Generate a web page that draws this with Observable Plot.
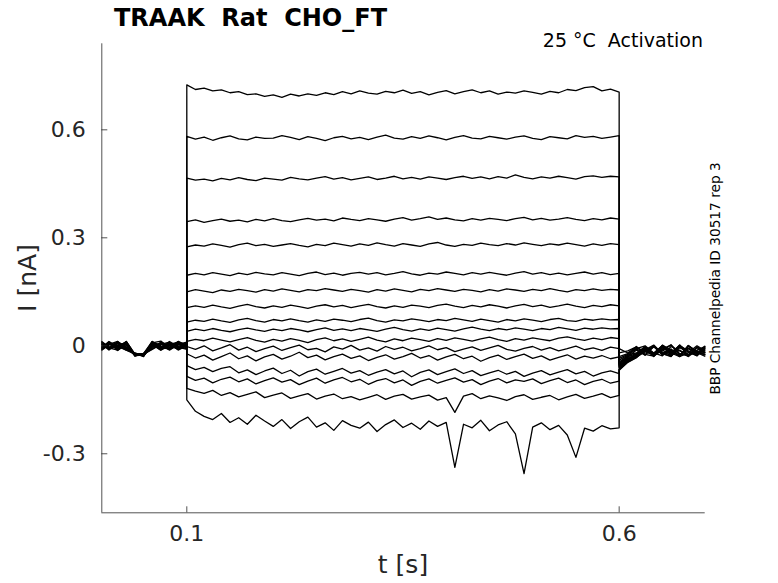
<!DOCTYPE html>
<html><head><meta charset="utf-8">
<script src="https://cdn.jsdelivr.net/npm/d3@7"></script>
<script src="https://cdn.jsdelivr.net/npm/@observablehq/plot@0.6"></script>
<style>body{margin:0;background:#fff}#chart{width:778px;height:583px}</style>
</head><body><div id="chart"></div>
<script>
// time samples (s): pre-pulse, step, post-pulse
const t = [
  0.0017,0.01,0.02,0.03,0.04,0.05,0.06,0.07,0.08,0.09,0.1,
  0.1,0.11,0.12,0.13,0.14,0.15,0.16,0.17,0.18,0.19,
  0.2,0.21,0.22,0.23,0.24,0.25,0.26,0.27,0.28,0.29,
  0.3,0.31,0.32,0.33,0.34,0.35,0.36,0.37,0.38,0.39,
  0.4,0.41,0.42,0.43,0.44,0.45,0.46,0.47,0.48,0.49,
  0.5,0.51,0.52,0.53,0.54,0.55,0.56,0.57,0.58,0.59,0.6,
  0.6,0.61,0.62,0.63,0.64,0.65,0.66,0.67,0.68,0.69,0.699
];
// current traces in pA
const trace01 = [9,-7,12,-5,-26,-25,6,-10,4,10,-4,
  725,712,716,708,711,703,706,698,700,693,
  697,690,699,694,700,696,703,698,706,700,
  708,702,699,707,703,710,701,706,697,704,
  709,700,706,711,703,708,699,705,702,708,
  704,699,707,703,712,709,717,720,708,713,705,
  -8,-20,-2,-26,0,-22,-30,-4,-16,-27,-8];
const trace02 = [-10,6,-9,12,-23,-28,4,-12,8,-6,2,
  582,574,580,571,578,583,575,572,580,576,
  577,584,579,573,581,576,570,578,582,575,
  579,573,580,585,577,574,581,576,583,578,
  572,579,584,577,575,582,578,574,580,583,
  576,573,581,578,575,584,579,582,576,580,584,
  -20,-14,-3,-24,-29,-6,-18,1,-27,-12,-2];
const trace03 = [4,-12,10,-3,-22,-24,-9,6,-4,12,-2,
  466,460,463,458,465,461,467,462,459,466,
  463,460,468,464,461,466,470,463,467,461,
  465,469,462,466,471,464,468,463,469,466,
  462,467,471,465,469,464,470,466,475,468,
  464,469,466,471,467,463,470,472,468,471,469,
  -30,-22,-8,0,-20,-28,-2,-14,-24,-5,-19];
const trace04 = [-6,10,-13,4,-27,-26,12,-4,-10,6,4,
  345,350,343,348,352,346,349,344,351,347,
  353,348,345,350,354,349,352,347,355,351,
  348,353,350,346,352,356,349,353,358,351,
  355,350,347,353,349,354,351,348,353,357,
  350,354,349,352,356,351,348,353,350,355,352,
  -35,-24,-4,-16,-26,2,-12,-28,-7,-21,-1];
const trace05 = [12,-4,6,-10,-21,-23,-6,10,0,-9,6,
  275,280,277,283,279,274,281,285,278,282,
  276,280,284,279,275,282,278,285,281,277,
  283,279,286,281,277,284,280,276,283,287,
  280,276,282,279,285,281,278,284,280,286,
  282,278,283,280,285,281,277,283,279,284,281,
  -40,-26,-20,-2,-24,-10,3,-22,-29,-4,-15];
const trace06 = [-2,8,-12,6,-24,-27,10,-3,7,-12,0,
  196,201,197,203,199,195,202,198,204,200,
  197,203,199,195,201,205,198,202,196,201,
  204,199,203,197,201,206,200,196,202,199,
  205,201,197,203,199,204,200,196,202,206,
  199,203,198,202,197,201,205,199,203,198,201,
  -45,-28,-8,-25,-3,-17,-27,0,-14,-24,-6];
const trace07 = [10,-9,2,-12,-20,-28,2,-7,12,-2,-8,
  150,156,152,148,155,151,157,153,149,156,
  152,158,154,150,156,153,159,155,151,157,
  153,149,156,152,158,154,150,157,153,159,
  155,151,157,154,150,156,152,158,155,151,
  157,153,159,154,150,156,153,158,154,157,155,
  -48,-30,-22,-5,-28,-12,2,-25,-8,-19,-29];
const trace08 = [-8,4,12,-6,-25,-22,8,13,-6,4,10,
  106,111,107,113,108,104,110,115,109,105,
  111,107,113,109,104,110,114,108,112,106,
  111,115,109,105,111,107,113,110,106,112,
  116,110,106,112,108,114,110,105,111,115,
  109,113,107,111,116,110,106,112,109,114,111,
  -50,-32,-12,-26,-1,-20,-9,-29,1,-16,-24];
const trace09 = [6,-10,0,10,-29,-21,-4,8,-9,12,2,
  66,71,68,74,69,65,72,76,70,66,
  73,69,75,70,66,72,68,74,71,67,
  73,77,70,66,72,69,75,71,67,73,
  70,76,72,68,74,70,66,73,69,75,
  71,67,73,76,70,68,74,71,75,72,73,
  -52,-34,-23,-6,-30,-3,-18,-26,0,-21,-10];
const trace10 = [-12,2,8,-4,-22,-26,6,-8,2,-4,-10,
  40,46,42,48,43,39,45,49,44,40,
  46,42,48,44,39,45,50,43,47,42,
  48,44,40,46,51,45,41,47,43,49,
  45,41,47,52,46,42,48,44,50,46,
  42,48,45,51,47,43,49,46,50,47,48,
  -55,-36,-25,-11,2,-22,-29,-5,-17,-27,-4];
const trace11 = [4,-6,-12,8,-26,-23,-10,4,10,-6,8,
  12,18,14,21,16,11,17,23,15,10,
  18,13,20,15,9,17,22,14,19,12,
  18,24,16,11,19,14,21,17,12,20,
  15,22,18,13,19,24,17,12,20,16,
  22,18,14,21,25,19,15,21,17,23,20,
  -58,-37,-27,-8,-20,1,-26,-12,-30,-3,-18];
const trace12 = [-4,12,-2,-10,-20,-29,4,-12,0,8,-2,
  -2,-10,0,-14,-6,3,-12,-4,-16,-8,
  -1,-13,-5,2,-11,-7,-17,-3,-9,1,
  -12,-6,-15,-2,-10,-4,-14,-8,0,-11,
  -5,-16,-9,-3,-13,-6,1,-10,-15,-7,
  -2,-12,-5,-14,-8,-1,-11,-6,-13,-4,-8,
  -60,-38,-28,-14,-1,-24,-10,-30,-19,0,-13];
const trace13 = [8,-8,6,2,-28,-22,12,0,-10,2,6,
  -22,-34,-26,-40,-30,-20,-36,-28,-42,-31,
  -24,-37,-29,-18,-33,-26,-39,-30,-23,-35,
  -28,-41,-32,-25,-37,-30,-21,-34,-27,-40,
  -31,-24,-36,-29,-43,-33,-26,-38,-30,-23,
  -35,-28,-40,-32,-25,-37,-29,-34,-27,-36,-31,
  -62,-40,-30,-4,-22,-11,-27,2,-17,-28,-7];
const trace14 = [-6,10,-4,12,-24,-25,-2,6,-12,4,-4,
  -55,-66,-60,-72,-63,-58,-75,-67,-80,-70,
  -62,-77,-68,-84,-72,-65,-79,-71,-63,-76,
  -69,-82,-73,-66,-78,-70,-86,-74,-67,-80,
  -72,-64,-77,-69,-83,-75,-68,-79,-71,-85,
  -76,-69,-81,-73,-66,-78,-71,-84,-75,-70,-77,
  -64,-42,-29,-15,-25,1,-16,-27,-6,-22,-3];
const trace15 = [2,-4,10,-8,-21,-30,8,-6,6,-10,0,
  -85,-96,-90,-103,-93,-87,-100,-92,-106,-97,
  -89,-101,-94,-108,-98,-90,-104,-95,-88,-100,
  -93,-107,-97,-91,-103,-95,-110,-99,-92,-104,
  -96,-89,-101,-94,-108,-98,-91,-103,-95,-99,
  -92,-105,-97,-90,-102,-95,-108,-99,-93,-104,-98,
  -66,-44,-31,-17,-2,-26,-12,-29,0,-18,-24];
const trace16 = [-10,6,-6,10,-27,-24,4,-8,8,-2,6,
  -118,-126,-132,-124,-138,-130,-142,-135,-128,-144,
  -137,-131,-146,-139,-133,-148,-140,-134,-147,-141,
  -150,-143,-136,-149,-140,-135,-148,-142,-137,-151,
  -144,-185,-140,-133,-147,-139,-145,-152,-141,-136,
  -149,-143,-138,-150,-142,-135,-146,-140,-133,-144,-138,
  -66,-45,-32,-9,-24,-3,-20,-30,-1,-15,-26];
const trace17 = [-8,6,-2,-12,-23,-24,0,8,-4,6,-6,
  -150,-182,-196,-205,-188,-213,-200,-218,-193,-209,
  -224,-205,-230,-211,-198,-226,-214,-235,-208,-221,
  -229,-212,-238,-219,-206,-227,-215,-232,-209,-224,
  -213,-338,-218,-228,-207,-236,-220,-211,-245,-355,
  -226,-214,-233,-221,-248,-310,-229,-237,-222,-231,-228,
  -68,-46,-33,-12,-27,-5,-22,2,-29,-14,-20];
const traces = [trace01,trace02,trace03,trace04,trace05,trace06,trace07,trace08,trace09,
  trace10,trace11,trace12,trace13,trace14,trace15,trace16,trace17];

const xTicks = [0.1, 0.6];
const yTicks = [-0.3, 0, 0.3, 0.6];
const xDomain = [0.0017, 0.6995];
const yDomain = [-0.464, 0.839];

const title = "TRAAK  Rat  CHO_FT";
const subtitle = "25 °C  Activation";
const sideNote = "BBP Channelpedia ID 30517 rep 3";
const xLabel = "t [s]";
const yLabel = "I [nA]";

const data = traces.flatMap((vals, k) => vals.map((v, i) => ({t: t[i], I: v / 1000, trace: k})));

const axisColor = "#262626";
const svg = Plot.plot({
  width: 778, height: 583,
  marginLeft: 101.3, marginRight: 73.3, marginTop: 43.3, marginBottom: 70.7,
  style: {fontFamily: "DejaVu Sans", background: "#fff", overflow: "visible"},
  x: {domain: xDomain},
  y: {domain: yDomain},
  marks: [
    Plot.line(data, {x: "t", y: "I", z: "trace", stroke: "#000", strokeWidth: 1.3}),
    Plot.ruleX([xDomain[0]], {stroke: axisColor, strokeWidth: 0.8}),
    Plot.ruleY([yDomain[0]], {stroke: axisColor, strokeWidth: 0.8}),
    Plot.axisX(xTicks, {tickSize: -6, tickPadding: 19, fontSize: 22, color: axisColor, strokeWidth: 0.8, label: null, tickFormat: d => String(d)}),
    Plot.axisY(yTicks, {tickSize: -6, tickPadding: 22, fontSize: 22, color: axisColor, strokeWidth: 0.8, label: null, tickFormat: d => String(d)})
  ]
});
document.getElementById("chart").appendChild(svg);

const s = d3.select(svg);
s.append("text").attr("x", 114).attr("y", 26).attr("font-size", 24).attr("font-weight", "bold")
  .attr("text-anchor", "start").attr("font-family", "DejaVu Sans").attr("fill", "#000")
  .style("white-space", "pre").text(title);
s.append("text").attr("x", 703).attr("y", 47).attr("font-size", 19).attr("text-anchor", "end")
  .attr("font-family", "DejaVu Sans").attr("fill", "#000").style("white-space", "pre").text(subtitle);
s.append("text").attr("transform", "translate(720,278.5) rotate(-90)").attr("font-size", 13.7)
  .attr("text-anchor", "middle").attr("font-family", "DejaVu Sans").attr("fill", "#000").text(sideNote);
s.append("text").attr("x", 403).attr("y", 573).attr("font-size", 25).attr("text-anchor", "middle")
  .attr("font-family", "DejaVu Sans").attr("fill", axisColor).text(xLabel);
s.append("text").attr("transform", "translate(36,278) rotate(-90)").attr("font-size", 25)
  .attr("text-anchor", "middle").attr("font-family", "DejaVu Sans").attr("fill", axisColor).text(yLabel);
</script>
</body></html>
